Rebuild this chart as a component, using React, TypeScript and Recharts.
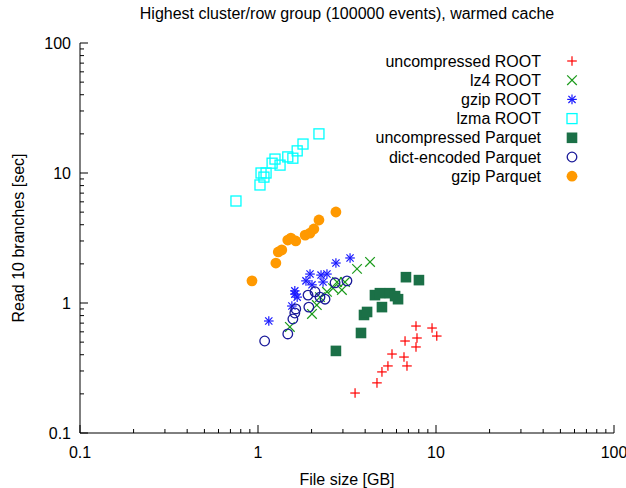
import React from 'react';
import { ScatterChart, Scatter, XAxis, YAxis } from 'recharts';

const titleText = 'Highest cluster/row group (100000 events), warmed cache';
const xLabelText = 'File size [GB]';
const yLabelText = 'Read 10 branches [sec]';

const majorTicks = [0.1, 1, 10, 100];
const minorTicks = [0.2, 0.3, 0.4, 0.5, 0.6, 0.7, 0.8, 0.9, 2, 3, 4, 5, 6, 7, 8, 9, 20, 30, 40, 50, 60, 70, 80, 90];
const majorLabels = ['0.1', '1', '10', '100'];

const uncompRootX = [3.51, 4.66, 4.97, 5.37, 5.66, 6.61, 6.87, 6.70, 7.72, 7.82, 7.72, 9.50, 10.1];
const uncompRootY = [0.203, 0.243, 0.295, 0.328, 0.405, 0.384, 0.328, 0.51, 0.665, 0.538, 0.459, 0.642, 0.557];

const lz4RootX = [1.51, 2.01, 2.14, 2.23, 2.44, 2.64, 2.78, 2.96, 3.08, 3.60, 4.26];
const lz4RootY = [0.654, 0.823, 0.965, 1.11, 1.22, 1.30, 1.45, 1.26, 1.45, 1.83, 2.07];

const gzipRootX = [1.15, 1.55, 1.61, 1.61, 1.66, 1.86, 1.96, 2.01, 2.26, 2.32, 2.44, 2.74, 3.29];
const gzipRootY = [0.727, 0.948, 1.24, 1.17, 1.11, 1.48, 1.67, 1.38, 1.64, 1.45, 1.67, 2.03, 2.22];

const lzmaRootX = [0.752, 1.026, 1.04, 1.11, 1.08, 1.20, 1.246, 1.33, 1.47, 1.57, 1.66, 1.79, 2.20];
const lzmaRootY = [6.09, 8.09, 10.0, 10.0, 9.3, 11.9, 12.8, 11.5, 13.3, 13.0, 14.8, 16.7, 20.0];

const uncompParqX = [2.74, 3.79, 3.94, 4.10, 4.54, 4.84, 4.97, 5.52, 5.89, 6.12, 6.78, 8.02];
const uncompParqY = [0.428, 0.588, 0.809, 0.853, 1.15, 1.19, 0.93, 1.19, 1.13, 1.07, 1.58, 1.50];

const dictParqX = [1.09, 1.47, 1.57, 1.61, 1.63, 1.93, 1.91, 2.09, 2.23, 2.38, 2.71, 3.16];
const dictParqY = [0.51, 0.578, 0.753, 0.838, 0.90, 0.93, 1.15, 1.22, 1.11, 1.07, 1.43, 1.48];

const gzipParqX = [0.925, 1.26, 1.30, 1.36, 1.47, 1.53, 1.63, 1.84, 1.96, 2.06, 2.20, 2.74];
const gzipParqY = [1.48, 2.03, 2.47, 2.56, 3.05, 3.16, 3.0, 3.33, 3.45, 3.71, 4.35, 5.01];

const seriesNames = [
  'uncompressed ROOT',
  'lz4 ROOT',
  'gzip ROOT',
  'lzma ROOT',
  'uncompressed Parquet',
  'dict-encoded Parquet',
  'gzip Parquet',
];

const FONT = '"Liberation Sans", Arial, sans-serif';

type MarkerKind = 'plus' | 'cross' | 'star' | 'openSquare' | 'square' | 'openCircle' | 'circle';

const seriesStyle: { kind: MarkerKind; color: string }[] = [
  { kind: 'plus', color: '#ff0000' },
  { kind: 'cross', color: '#1a9a1a' },
  { kind: 'star', color: '#1a1aff' },
  { kind: 'openSquare', color: '#00ffff' },
  { kind: 'square', color: '#1b7047' },
  { kind: 'openCircle', color: '#1a1a99' },
  { kind: 'circle', color: '#ff9900' },
];

const seriesData = [
  [uncompRootX, uncompRootY],
  [lz4RootX, lz4RootY],
  [gzipRootX, gzipRootY],
  [lzmaRootX, lzmaRootY],
  [uncompParqX, uncompParqY],
  [dictParqX, dictParqY],
  [gzipParqX, gzipParqY],
].map(([xs, ys]) => xs.map((x, i) => ({ size: x, time: ys[i] })));

function Marker({ kind, color, cx, cy }: { kind: MarkerKind; color: string; cx: number; cy: number }) {
  if (cx == null || cy == null || isNaN(cx) || isNaN(cy)) return null;
  const s = 4.8;
  switch (kind) {
    case 'plus':
      return (
        <g stroke={color} strokeWidth={1.2}>
          <line x1={cx - s} y1={cy} x2={cx + s} y2={cy} />
          <line x1={cx} y1={cy - s} x2={cx} y2={cy + s} />
        </g>
      );
    case 'cross':
      return (
        <g stroke={color} strokeWidth={1.2}>
          <line x1={cx - s} y1={cy - s} x2={cx + s} y2={cy + s} />
          <line x1={cx - s} y1={cy + s} x2={cx + s} y2={cy - s} />
        </g>
      );
    case 'star':
      return (
        <g stroke={color} strokeWidth={1.2}>
          <line x1={cx - s} y1={cy} x2={cx + s} y2={cy} />
          <line x1={cx} y1={cy - s} x2={cx} y2={cy + s} />
          <line x1={cx - 3.6} y1={cy - 3.6} x2={cx + 3.6} y2={cy + 3.6} />
          <line x1={cx - 3.6} y1={cy + 3.6} x2={cx + 3.6} y2={cy - 3.6} />
        </g>
      );
    case 'openSquare':
      return <rect x={cx - 5} y={cy - 5} width={10} height={10} fill="none" stroke={color} strokeWidth={1.3} />;
    case 'square':
      return <rect x={cx - 5.3} y={cy - 5.3} width={10.6} height={10.6} fill={color} />;
    case 'openCircle':
      return <circle cx={cx} cy={cy} r={4.8} fill="none" stroke={color} strokeWidth={1.3} />;
    case 'circle':
      return <circle cx={cx} cy={cy} r={5.4} fill={color} />;
  }
  return null;
}

const allTicks = [...majorTicks, ...minorTicks].sort((a, b) => a - b);
const isMajor = (v: number) => majorTicks.some((m) => Math.abs(m - v) < 1e-9);
const labelFor = (v: number) => majorLabels[majorTicks.findIndex((m) => Math.abs(m - v) < 1e-9)];

const BottomTick = (props: any) => {
  const { x, y, payload } = props;
  const v = payload.value;
  const major = isMajor(v);
  return (
    <g>
      <line x1={x} y1={y} x2={x} y2={y - (major ? 8 : 4)} stroke="#000" strokeWidth={1} />
      {major && (
        <text x={x} y={y + 25} textAnchor="middle" fontSize={16} fontFamily={FONT} fill="#000">
          {labelFor(v)}
        </text>
      )}
    </g>
  );
};

const TopTick = (props: any) => {
  const { x, y, payload } = props;
  const major = isMajor(payload.value);
  return <line x1={x} y1={y} x2={x} y2={y + (major ? 8 : 4)} stroke="#000" strokeWidth={1} />;
};

const LeftTick = (props: any) => {
  const { x, y, payload } = props;
  const v = payload.value;
  const major = isMajor(v);
  return (
    <g>
      <line x1={x} y1={y} x2={x + (major ? 8 : 4)} y2={y} stroke="#000" strokeWidth={1} />
      {major && (
        <text x={x - 9} y={y + 5.5} textAnchor="end" fontSize={16} fontFamily={FONT} fill="#000">
          {labelFor(v)}
        </text>
      )}
    </g>
  );
};

const RightTick = (props: any) => {
  const { x, y, payload } = props;
  const major = isMajor(payload.value);
  return <line x1={x} y1={y} x2={x - (major ? 8 : 4)} y2={y} stroke="#000" strokeWidth={1} />;
};

export default function App() {
  const W = 626;
  const H = 488;
  return (
    <div style={{ position: 'absolute', left: 0, top: 0, width: W, height: H, background: '#fff' }}>
      <ScatterChart width={W} height={H} margin={{ top: 43, right: 12, bottom: 15, left: 20 }}>
        <XAxis
          dataKey="size"
          type="number"
          scale="log"
          domain={[0.1, 100]}
          allowDataOverflow
          ticks={allTicks}
          interval={0}
          height={40}
          tickSize={0}
          tickMargin={0}
          tickLine={false}
          tick={<BottomTick />}
          axisLine={{ stroke: '#000', strokeWidth: 1 }}
        />
        <XAxis
          xAxisId="top"
          orientation="top"
          dataKey="size"
          type="number"
          scale="log"
          domain={[0.1, 100]}
          allowDataOverflow
          ticks={allTicks}
          interval={0}
          height={0}
          tickSize={0}
          tickMargin={0}
          tickLine={false}
          tick={<TopTick />}
          axisLine={{ stroke: '#000', strokeWidth: 1 }}
        />
        <YAxis
          dataKey="time"
          type="number"
          scale="log"
          domain={[0.1, 100]}
          allowDataOverflow
          ticks={allTicks}
          interval={0}
          width={60}
          tickSize={0}
          tickMargin={0}
          tickLine={false}
          tick={<LeftTick />}
          axisLine={{ stroke: '#000', strokeWidth: 1 }}
        />
        <YAxis
          yAxisId="right"
          orientation="right"
          dataKey="time"
          type="number"
          scale="log"
          domain={[0.1, 100]}
          allowDataOverflow
          ticks={allTicks}
          interval={0}
          width={0}
          tickSize={0}
          tickMargin={0}
          tickLine={false}
          tick={<RightTick />}
          axisLine={{ stroke: '#000', strokeWidth: 1 }}
        />
        {seriesData.map((data, i) => (
          <Scatter
            key={seriesNames[i]}
            name={seriesNames[i]}
            data={data}
            isAnimationActive={false}
            shape={(p: any) => <Marker kind={seriesStyle[i].kind} color={seriesStyle[i].color} cx={p.cx} cy={p.cy} />}
          />
        ))}
      </ScatterChart>
      <svg
        width={W}
        height={H}
        style={{ position: 'absolute', left: 0, top: 0, pointerEvents: 'none' }}
      >
        <text x={347} y={19} textAnchor="middle" fontSize={16} fontFamily={FONT} fill="#000">
          {titleText}
        </text>
        <text x={347} y={485} textAnchor="middle" fontSize={16} fontFamily={FONT} fill="#000">
          {xLabelText}
        </text>
        <text
          x={0}
          y={0}
          transform="translate(24,238) rotate(-90)"
          textAnchor="middle"
          fontSize={16}
          fontFamily={FONT}
          fill="#000"
        >
          {yLabelText}
        </text>
        {seriesNames.map((name, i) => {
          const y = 61 + i * 19.2;
          return (
            <g key={name}>
              <text x={541} y={y + 5.5} textAnchor="end" fontSize={16} fontFamily={FONT} fill="#000">
                {name}
              </text>
              <Marker kind={seriesStyle[i].kind} color={seriesStyle[i].color} cx={572} cy={y} />
            </g>
          );
        })}
      </svg>
    </div>
  );
}
